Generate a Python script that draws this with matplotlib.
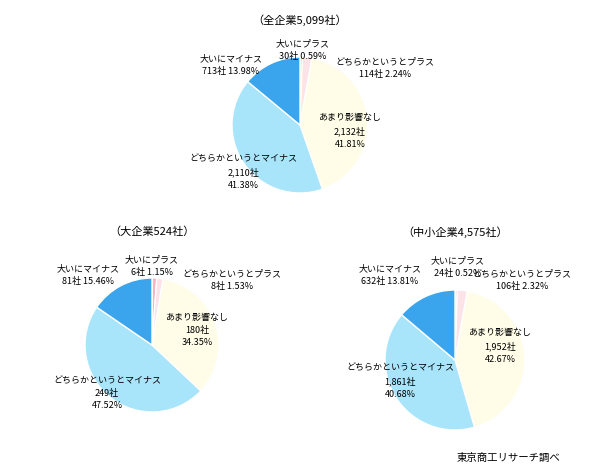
import matplotlib.pyplot as plt

plt.rcParams["font.family"] = "Noto Sans CJK JP"

categories = ["大いにプラス", "どちらかというとプラス", "あまり影響なし", "どちらかというとマイナス", "大いにマイナス"]
colors = ["#F4B6C2", "#FBE3E8", "#FFFDE8", "#A8E4FA", "#3AA5EC"]

titles = ["（全企業5,099社）", "（大企業524社）", "（中小企業4,575社）"]
counts = [
    [30, 114, 2132, 2110, 713],
    [6, 8, 180, 249, 81],
    [24, 106, 1952, 1861, 632],
]
shares = [
    [0.59, 2.24, 41.81, 41.38, 13.98],
    [1.15, 1.53, 34.35, 47.52, 15.46],
    [0.52, 2.32, 42.67, 40.68, 13.81],
]

W, H = 600, 474
fig = plt.figure(figsize=(6, 4.74), dpi=100)

# pie centres / radius in pixels, title position, label positions (pixels, top-left origin)
layout = [
    dict(c=(300, 125), r=68, title=(300, 20),
         labels=[(303, 50, "center"), (385, 68, "center"), (350, 131, "center"),
                 (243, 172, "center"), (231, 65, "center")]),
    dict(c=(152, 345), r=67, title=(152, 232),
         labels=[(152, 266, "center"), (232, 280, "center"), (197, 330, "center"),
                 (107, 393, "center"), (88, 275, "center")]),
    dict(c=(455, 360), r=70, title=(455, 232),
         labels=[(458, 267, "center"), (522, 280, "center"), (500, 346, "center"),
                 (400, 381, "center"), (390, 275, "center")]),
]

for title, cnt, sh, lay in zip(titles, counts, shares, layout):
    cx, cy = lay["c"]
    r = lay["r"]
    ax = fig.add_axes([(cx - r) / W, 1 - (cy + r) / H, 2 * r / W, 2 * r / H])
    ax.pie(cnt, colors=colors, startangle=90, counterclock=False,
           wedgeprops=dict(edgecolor="white", linewidth=1))
    ax.set_xlim(-1, 1)
    ax.set_ylim(-1, 1)
    ax.set_aspect("auto")
    fig.text(lay["title"][0] / W, 1 - lay["title"][1] / H, title,
             ha="center", va="center", fontsize=8)
    for i, (x, y, ha) in enumerate(lay["labels"]):
        if i in (2, 3):
            s = f"{categories[i]}\n{cnt[i]:,}社\n{sh[i]:.2f}%"
        else:
            s = f"{categories[i]}\n{cnt[i]:,}社 {sh[i]:.2f}%"
        fig.text(x / W, 1 - y / H, s, ha=ha, va="center", fontsize=6.5,
                 linespacing=1.5)

fig.text(560 / W, 1 - 458 / H, "東京商工リサーチ調べ", ha="right", va="center", fontsize=7.5)

fig.savefig("out.png", dpi=100, facecolor="white")
